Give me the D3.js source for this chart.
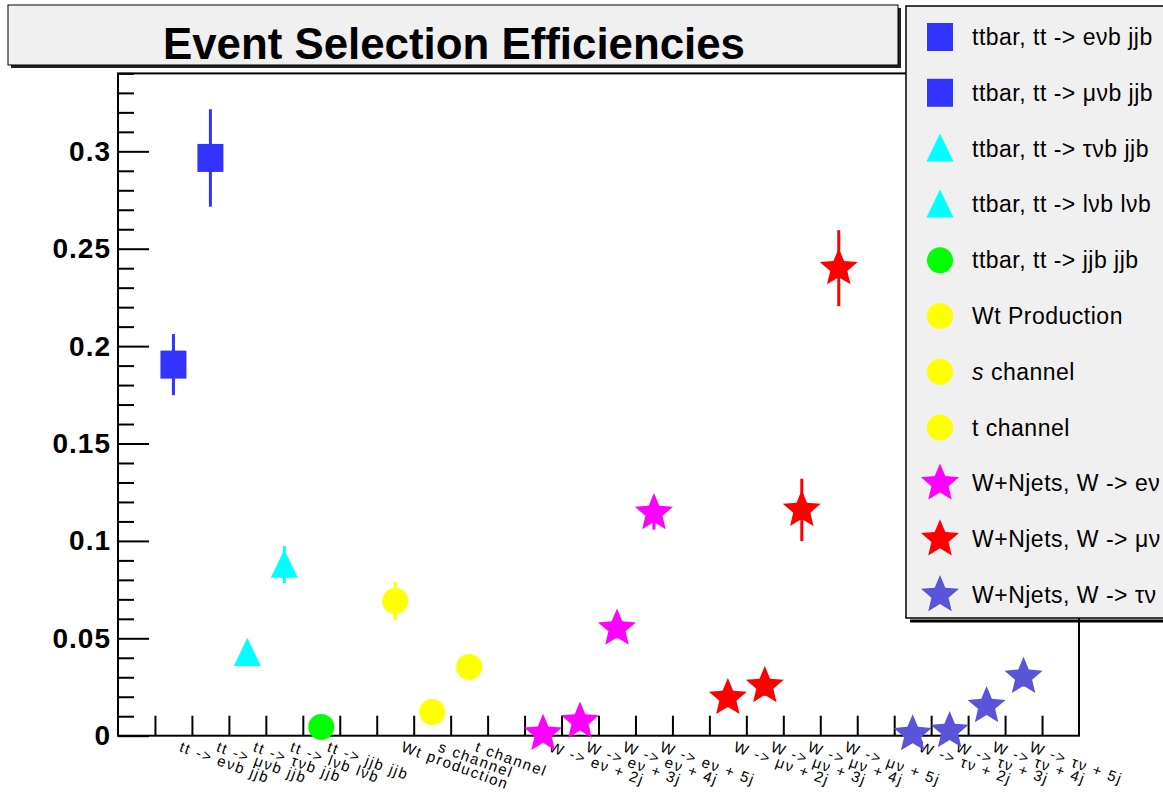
<!DOCTYPE html>
<html>
<head>
<meta charset="utf-8">
<script src="https://cdn.jsdelivr.net/npm/d3@7"></script>
<style>
  body { margin: 0; background: #fff; }
  text { font-family: "Liberation Sans", Arial, Helvetica, sans-serif; }
</style>
</head>
<body>
<div id="chart"></div>
<script>
// x axis bin labels (26 bins, blank ones are gaps between groups)
var binLabels = ["",
    "tt -> eνb jjb", "tt -> μνb jjb", "tt -> τνb jjb", "tt -> lνb lνb", "tt -> jjb jjb", "",
    "Wt production", "s channel", "t channel", "",
    "W -> eν + 2j", "W -> eν + 3j", "W -> eν + 4j", "W -> eν + 5j", "",
    "W -> μν + 2j", "W -> μν + 3j", "W -> μν + 4j", "W -> μν + 5j", "",
    "W -> τν + 2j", "W -> τν + 3j", "W -> τν + 4j", "W -> τν + 5j", ""];

// legend entries, one per series
var legendLabels = ["ttbar, tt -> eνb jjb", "ttbar, tt -> μνb jjb", "ttbar, tt -> τνb jjb",
    "ttbar, tt -> lνb lνb", "ttbar, tt -> jjb jjb", "Wt Production", "s channel", "t channel",
    "W+Njets, W -> eν", "W+Njets, W -> μν", "W+Njets, W -> τν"];

// the points: bin index, efficiency, error, series index
var pointBin    = [1, 2, 3, 4, 5, 7, 8, 9, 11, 12, 13, 14, 16, 17, 18, 19, 21, 22, 23, 24];
var pointValue  = [0.1905, 0.2966, 0.0425, 0.0878, 0.0045, 0.0691, 0.0122, 0.0353,
                   0.0010, 0.0073, 0.0550, 0.1143, 0.0194, 0.0255, 0.1159, 0.2400,
                   0.0008, 0.0024, 0.0152, 0.0302];
var pointError  = [0.0157, 0.0250, 0.0030, 0.0095, 0.0015, 0.0098, 0.0030, 0.0040,
                   0.0010, 0.0020, 0.0050, 0.0085, 0.0040, 0.0050, 0.0160, 0.0195,
                   0.0008, 0.0015, 0.0040, 0.0050];
var pointSeries = [0, 1, 2, 3, 4, 5, 6, 7, 8, 8, 8, 8, 9, 9, 9, 9, 10, 10, 10, 10];

var yMajorTicks = [0, 0.05, 0.1, 0.15, 0.2, 0.25, 0.3];
var yMajorLabels = ["0", "0.05", "0.1", "0.15", "0.2", "0.25", "0.3"];

// marker styles per series
var seriesColor = ["#3333ff", "#3333ff", "#00ffff", "#00ffff", "#00ff00", "#ffff00", "#ffff00", "#ffff00",
                   "#ff00ff", "#ff0000", "#5954d8"];
var seriesShape = ["square", "square", "triangle", "triangle", "circle", "circle", "circle", "circle",
                   "star", "star", "star"];

var width = 1163, height = 796;
var frame = {left: 118, right: 1079, top: 73.4, bottom: 735.7};

var x = d3.scaleLinear().domain([0, binLabels.length]).range([frame.left, frame.right]);
var y = d3.scaleLinear().domain([0, 0.34]).range([frame.bottom, frame.top]);

// custom marker shapes, drawn through d3.symbol
var shapes = {
    square: { draw: function(c) { c.rect(-13, -14, 26, 28); } },
    circle: { draw: function(c) { c.moveTo(13, 0); c.arc(0, 0, 13, 0, 2 * Math.PI); } },
    triangle: { draw: function(c) { c.moveTo(0, -15); c.lineTo(13.5, 13); c.lineTo(-13.5, 13); c.closePath(); } },
    star: { draw: function(c) {
        var R = 20, r = 9;
        for (var i = 0; i < 10; i++) {
            var a = -Math.PI / 2 + i * Math.PI / 5, rr = i % 2 ? r : R;
            if (i === 0) c.moveTo(rr * Math.cos(a), rr * Math.sin(a));
            else c.lineTo(rr * Math.cos(a), rr * Math.sin(a));
        }
        c.closePath();
    } }
};
function marker(s) { return d3.symbol().type(shapes[seriesShape[s]])(); }

var svg = d3.select("#chart").append("svg")
    .attr("width", width)
    .attr("height", height);

// title box
svg.append("rect").attr("x", 11).attr("y", 8).attr("width", 890).attr("height", 60).attr("fill", "#222");
svg.append("rect").attr("x", 8).attr("y", 5).attr("width", 890).attr("height", 60)
    .attr("fill", "#f0f0f0").attr("stroke", "#000").attr("stroke-width", 1);
svg.append("text")
    .attr("x", 454).attr("y", 59)
    .attr("text-anchor", "middle")
    .attr("font-size", 44).attr("font-weight", "bold")
    .attr("textLength", 582).attr("lengthAdjust", "spacingAndGlyphs")
    .text("Event Selection Efficiencies");

// frame
svg.append("rect")
    .attr("x", frame.left).attr("y", frame.top)
    .attr("width", frame.right - frame.left).attr("height", frame.bottom - frame.top)
    .attr("fill", "none").attr("stroke", "#000").attr("stroke-width", 2);

// y axis, minor then major ticks (pointing into the frame)
var yMinor = d3.range(1, 35).map(function(i) { return i / 100; })
    .filter(function(v) { return Math.round(v * 100) % 5 !== 0; });
var gMinor = svg.append("g").attr("transform", "translate(" + frame.left + ",0)")
    .call(d3.axisLeft(y).tickValues(yMinor).tickSize(-16).tickSizeOuter(0).tickFormat(""));
gMinor.select(".domain").remove();
gMinor.selectAll("line").attr("stroke-width", 2);

var gMajor = svg.append("g").attr("transform", "translate(" + frame.left + ",0)")
    .call(d3.axisLeft(y).tickValues(yMajorTicks).tickSize(-31).tickSizeOuter(0).tickPadding(7)
        .tickFormat(function(d, i) { return yMajorLabels[i]; }));
gMajor.select(".domain").remove();
gMajor.selectAll("line").attr("stroke-width", 2);
gMajor.attr("font-size", 28).attr("font-weight", "bold")
    .attr("font-family", "'Liberation Sans', Arial, sans-serif");
gMajor.selectAll("text").attr("letter-spacing", 1);

// x axis ticks
var gX = svg.append("g").attr("transform", "translate(0," + frame.bottom + ")")
    .call(d3.axisBottom(x).tickValues(d3.range(1, binLabels.length)).tickSize(-20).tickSizeOuter(0).tickFormat(""));
gX.select(".domain").remove();
gX.selectAll("line").attr("stroke-width", 2);

// slanted bin labels
svg.append("g").selectAll("text")
    .data(binLabels.map(function(l, i) { return {label: l, bin: i}; }).filter(function(d) { return d.label; }))
    .enter().append("text")
    .attr("transform", function(d) { return "translate(" + (x(d.bin + 0.5) + 5) + ",751) rotate(20)"; })
    .attr("font-size", 15)
    .attr("letter-spacing", 1.6)
    .text(function(d) { return d.label; });

// points
var points = pointBin.map(function(b, i) {
    return {bin: b, value: pointValue[i], err: pointError[i], s: pointSeries[i]};
});

svg.append("g").selectAll("line")
    .data(points)
    .enter().append("line")
    .attr("x1", function(d) { return x(d.bin + 0.5); })
    .attr("x2", function(d) { return x(d.bin + 0.5); })
    .attr("y1", function(d) { return y(d.value - d.err); })
    .attr("y2", function(d) { return y(d.value + d.err); })
    .attr("stroke", function(d) { return seriesColor[d.s]; })
    .attr("stroke-width", 3);

svg.append("g").selectAll("path")
    .data(points)
    .enter().append("path")
    .attr("transform", function(d) { return "translate(" + x(d.bin + 0.5) + "," + y(d.value) + ")"; })
    .attr("d", function(d) { return marker(d.s); })
    .attr("fill", function(d) { return seriesColor[d.s]; });

// legend
var legend = svg.append("g");
legend.append("rect").attr("x", 910).attr("y", 619.5).attr("width", 300).attr("height", 3).attr("fill", "#000");
legend.append("rect").attr("x", 906).attr("y", 6).attr("width", 300).attr("height", 612)
    .attr("fill", "#f0f0f0").attr("stroke", "#000").attr("stroke-width", 1.5);

var rows = legend.selectAll(".row")
    .data(legendLabels)
    .enter().append("g")
    .attr("class", "row")
    .attr("transform", function(d, i) { return "translate(0," + (37 + i * 55.8) + ")"; });

rows.append("path")
    .attr("transform", "translate(940,0)")
    .attr("d", function(d, i) { return marker(i); })
    .attr("fill", function(d, i) { return seriesColor[i]; });

rows.append("text")
    .attr("x", 972).attr("y", 8)
    .attr("font-size", 23)
    .attr("letter-spacing", 0.5)
    .each(function(d) {
        var t = d3.select(this);
        if (d === "s channel") {
            t.append("tspan").attr("font-style", "italic").text("s");
            t.append("tspan").text(" channel");
        } else {
            t.text(d);
        }
    });
</script>
</body>
</html>
